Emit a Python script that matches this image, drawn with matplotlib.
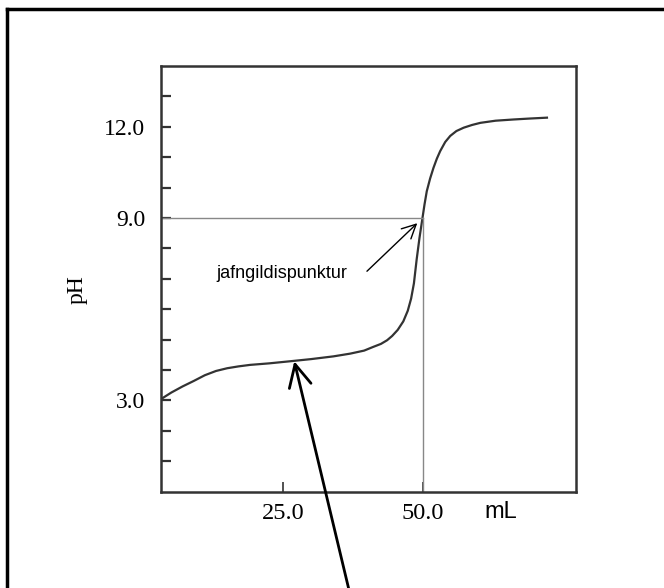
import matplotlib
matplotlib.use("Agg")
import matplotlib.pyplot as plt
from matplotlib.lines import Line2D

# titration curve
vol_ml = [3.2, 5.0, 7.0, 9.0, 11.0, 13.0, 15.0, 17.0, 19.1, 22.5, 26.3, 30.0,
          34.0, 37.0, 39.5, 41.1, 42.5, 43.6, 44.5, 45.5, 46.5, 47.3, 47.9,
          48.4, 48.9, 49.4, 49.9, 50.3, 50.7, 51.3, 51.9, 52.5, 53.1, 54.0,
          54.9, 56.0, 57.3, 58.8, 60.3, 63.0, 66.2, 69.0, 72.2]
ph = [3.05, 3.26, 3.46, 3.64, 3.83, 3.97, 4.06, 4.12, 4.17, 4.22, 4.29, 4.36,
      4.45, 4.54, 4.64, 4.76, 4.86, 4.98, 5.12, 5.32, 5.6, 5.95, 6.35,
      6.85, 7.65, 8.35, 8.96, 9.45, 9.88, 10.3, 10.65, 10.95, 11.2, 11.5,
      11.7, 11.86, 11.97, 12.06, 12.13, 12.2, 12.24, 12.27, 12.3]

eq_vol = 50.0
eq_ph = 9.0
ph_ticks = list(range(1, 14))
ph_labels = {3: "3.0", 9: "9.0", 12: "12.0"}
vol_ticks = [25.0, 50.0]
vol_labels = ["25.0", "50.0"]

serif = "Liberation Serif"
sans = "Liberation Sans"

fig = plt.figure(figsize=(6.64, 5.88), dpi=100)
ax = fig.add_axes([0.242, 0.1638, 0.6255, 0.7240])

ax.plot(vol_ml, ph, color="#333333", lw=1.6)
ax.plot([3.1, eq_vol], [eq_ph, eq_ph], color="#888888", lw=1)
ax.plot([eq_vol, eq_vol], [0, eq_ph], color="#888888", lw=1)

ax.set_xlim(3.1, 77.4)
ax.set_ylim(0, 14)

for s in ax.spines.values():
    s.set_color("#333333")
    s.set_linewidth(1.8)

ax.set_yticks(ph_ticks)
ax.set_yticklabels([ph_labels.get(t, "") for t in ph_ticks],
                   fontfamily=serif, fontsize=17)
ax.set_xticks(vol_ticks)
ax.set_xticklabels(vol_labels, fontfamily=serif, fontsize=17.5)
ax.tick_params(axis="y", direction="in", length=7, width=1.6,
               color="#333333", pad=11)
ax.tick_params(axis="x", direction="in", length=7, width=1.2,
               color="#333333", pad=8)

ax.text(-0.2015, 0.474, "pH", transform=ax.transAxes, rotation=90,
        ha="center", va="center", fontfamily=serif, fontsize=17)
ax.text(0.82, -0.048, "mL", transform=ax.transAxes, ha="center",
        va="center", fontfamily=sans, fontsize=17)

ax.text(13.0, 7.18, "jafngildispunktur", fontfamily=sans, fontsize=13,
        ha="left", va="center")
ax.annotate("", xy=(49.0, 8.83), xytext=(40.0, 7.25),
            arrowprops=dict(arrowstyle="->", lw=1, color="black",
                            mutation_scale=25, shrinkA=0, shrinkB=0))
ax.annotate("", xy=(27.0, 4.29), xytext=(0.527, -0.01),
            textcoords="figure fraction",
            arrowprops=dict(arrowstyle="->", lw=2, color="black",
                            mutation_scale=40, shrinkA=0, shrinkB=0),
            annotation_clip=False)

# partial frame around the figure (top and left edges)
fig.add_artist(Line2D([7 / 664, 7 / 664], [0, 1 - 9 / 588], color="black",
                      lw=2.5, transform=fig.transFigure))
fig.add_artist(Line2D([7 / 664, 1], [1 - 9 / 588, 1 - 9 / 588], color="black",
                      lw=2.5, transform=fig.transFigure))

fig.savefig("out.png", dpi=100)
